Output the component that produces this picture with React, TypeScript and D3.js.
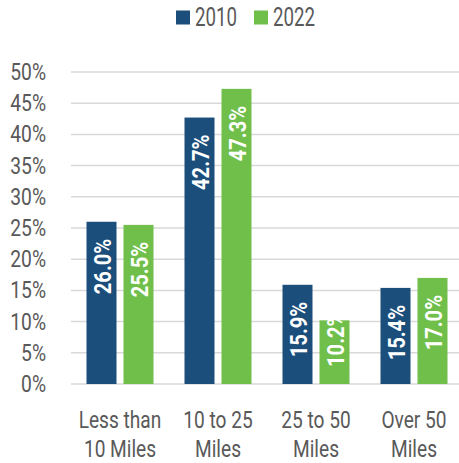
import React from "react";
import * as d3 from "d3";

const categories = [["Less than", "10 Miles"], ["10 to 25", "Miles"], ["25 to 50", "Miles"], ["Over 50", "Miles"]];
const seriesNames = ["2010", "2022"];
const values2010 = [26.0, 42.7, 15.9, 15.4];
const values2022 = [25.5, 47.3, 10.2, 17.0];
const yTicks = [0, 5, 10, 15, 20, 25, 30, 35, 40, 45, 50];
const colors = ["#1c4e7b", "#70bf4b"];

const W = 459;
const H = 463;
const FONT = "Roboto, 'DejaVu Sans', sans-serif";
const TEXT = "#595959";

function CText(props: { x: number; y: number; sx: number; size: number; anchor?: string; fill?: string; weight?: string; rotate?: number; children: any }) {
  const { x, y, sx, size, anchor = "start", fill = TEXT, weight = "normal", rotate = 0, children } = props;
  return (
    <text
      transform={`translate(${x},${y}) rotate(${rotate}) scale(${sx},1)`}
      fontSize={size}
      fill={fill}
      fontWeight={weight}
      textAnchor={anchor}
    >
      {children}
    </text>
  );
}

export default function App() {
  const y = d3.scaleLinear().domain([0, 50]).range([384, 72]);
  const catKeys = categories.map((c) => c.join(" "));
  const x0 = d3.scaleBand().domain(catKeys).range([71, 463]).paddingInner(31 / 98).paddingOuter(31 / 196);
  const x1 = d3.scaleBand().domain(seriesNames).range([0, x0.bandwidth()]).paddingInner(7 / 37);
  const data = [values2010, values2022];

  return (
    <svg width={W} height={H} style={{ position: "fixed", left: 0, top: 0, background: "#fff" }} fontFamily={FONT}>
      {seriesNames.map((s, i) => {
        const lx = i === 0 ? 176 : 254;
        return (
          <g key={s}>
            <rect x={lx} y={10.5} width={14} height={14} fill={colors[i]} />
            <CText x={lx + 19} y={26} sx={0.72} size={26}>{s}</CText>
          </g>
        );
      })}
      {yTicks.map((t) => (
        <g key={t}>
          <line x1={71} x2={W} y1={y(t)} y2={y(t)} stroke="#d9d9d9" strokeWidth={1.5} />
          <CText x={46} y={y(t) + 8} sx={0.82} size={23.5} anchor="end">{t}%</CText>
        </g>
      ))}
      {categories.map((c, ci) => (
        <g key={ci} transform={`translate(${x0(catKeys[ci])},0)`}>
          {seriesNames.map((s, si) => {
            const v = data[si][ci];
            const bx = x1(s)!;
            const top = y(v);
            const h = y(0) - top;
            const cx = bx + x1.bandwidth() / 2 + 9;
            const fits = h > 85;
            const ty = fits ? top + 17 : y(0) - 17;
            return (
              <g key={s}>
                <rect x={bx} y={top} width={x1.bandwidth()} height={h} fill={colors[si]} />
                <CText x={cx} y={ty} sx={0.84} size={24} rotate={-90} anchor={fits ? "end" : "start"} fill="#fff" weight="bold">
                  {v.toFixed(1)}%
                </CText>
              </g>
            );
          })}
          <CText x={x0.bandwidth() / 2} y={428} sx={0.78} size={24.5} anchor="middle">{c[0]}</CText>
          <CText x={x0.bandwidth() / 2} y={457} sx={0.78} size={24.5} anchor="middle">{c[1]}</CText>
        </g>
      ))}
    </svg>
  );
}
